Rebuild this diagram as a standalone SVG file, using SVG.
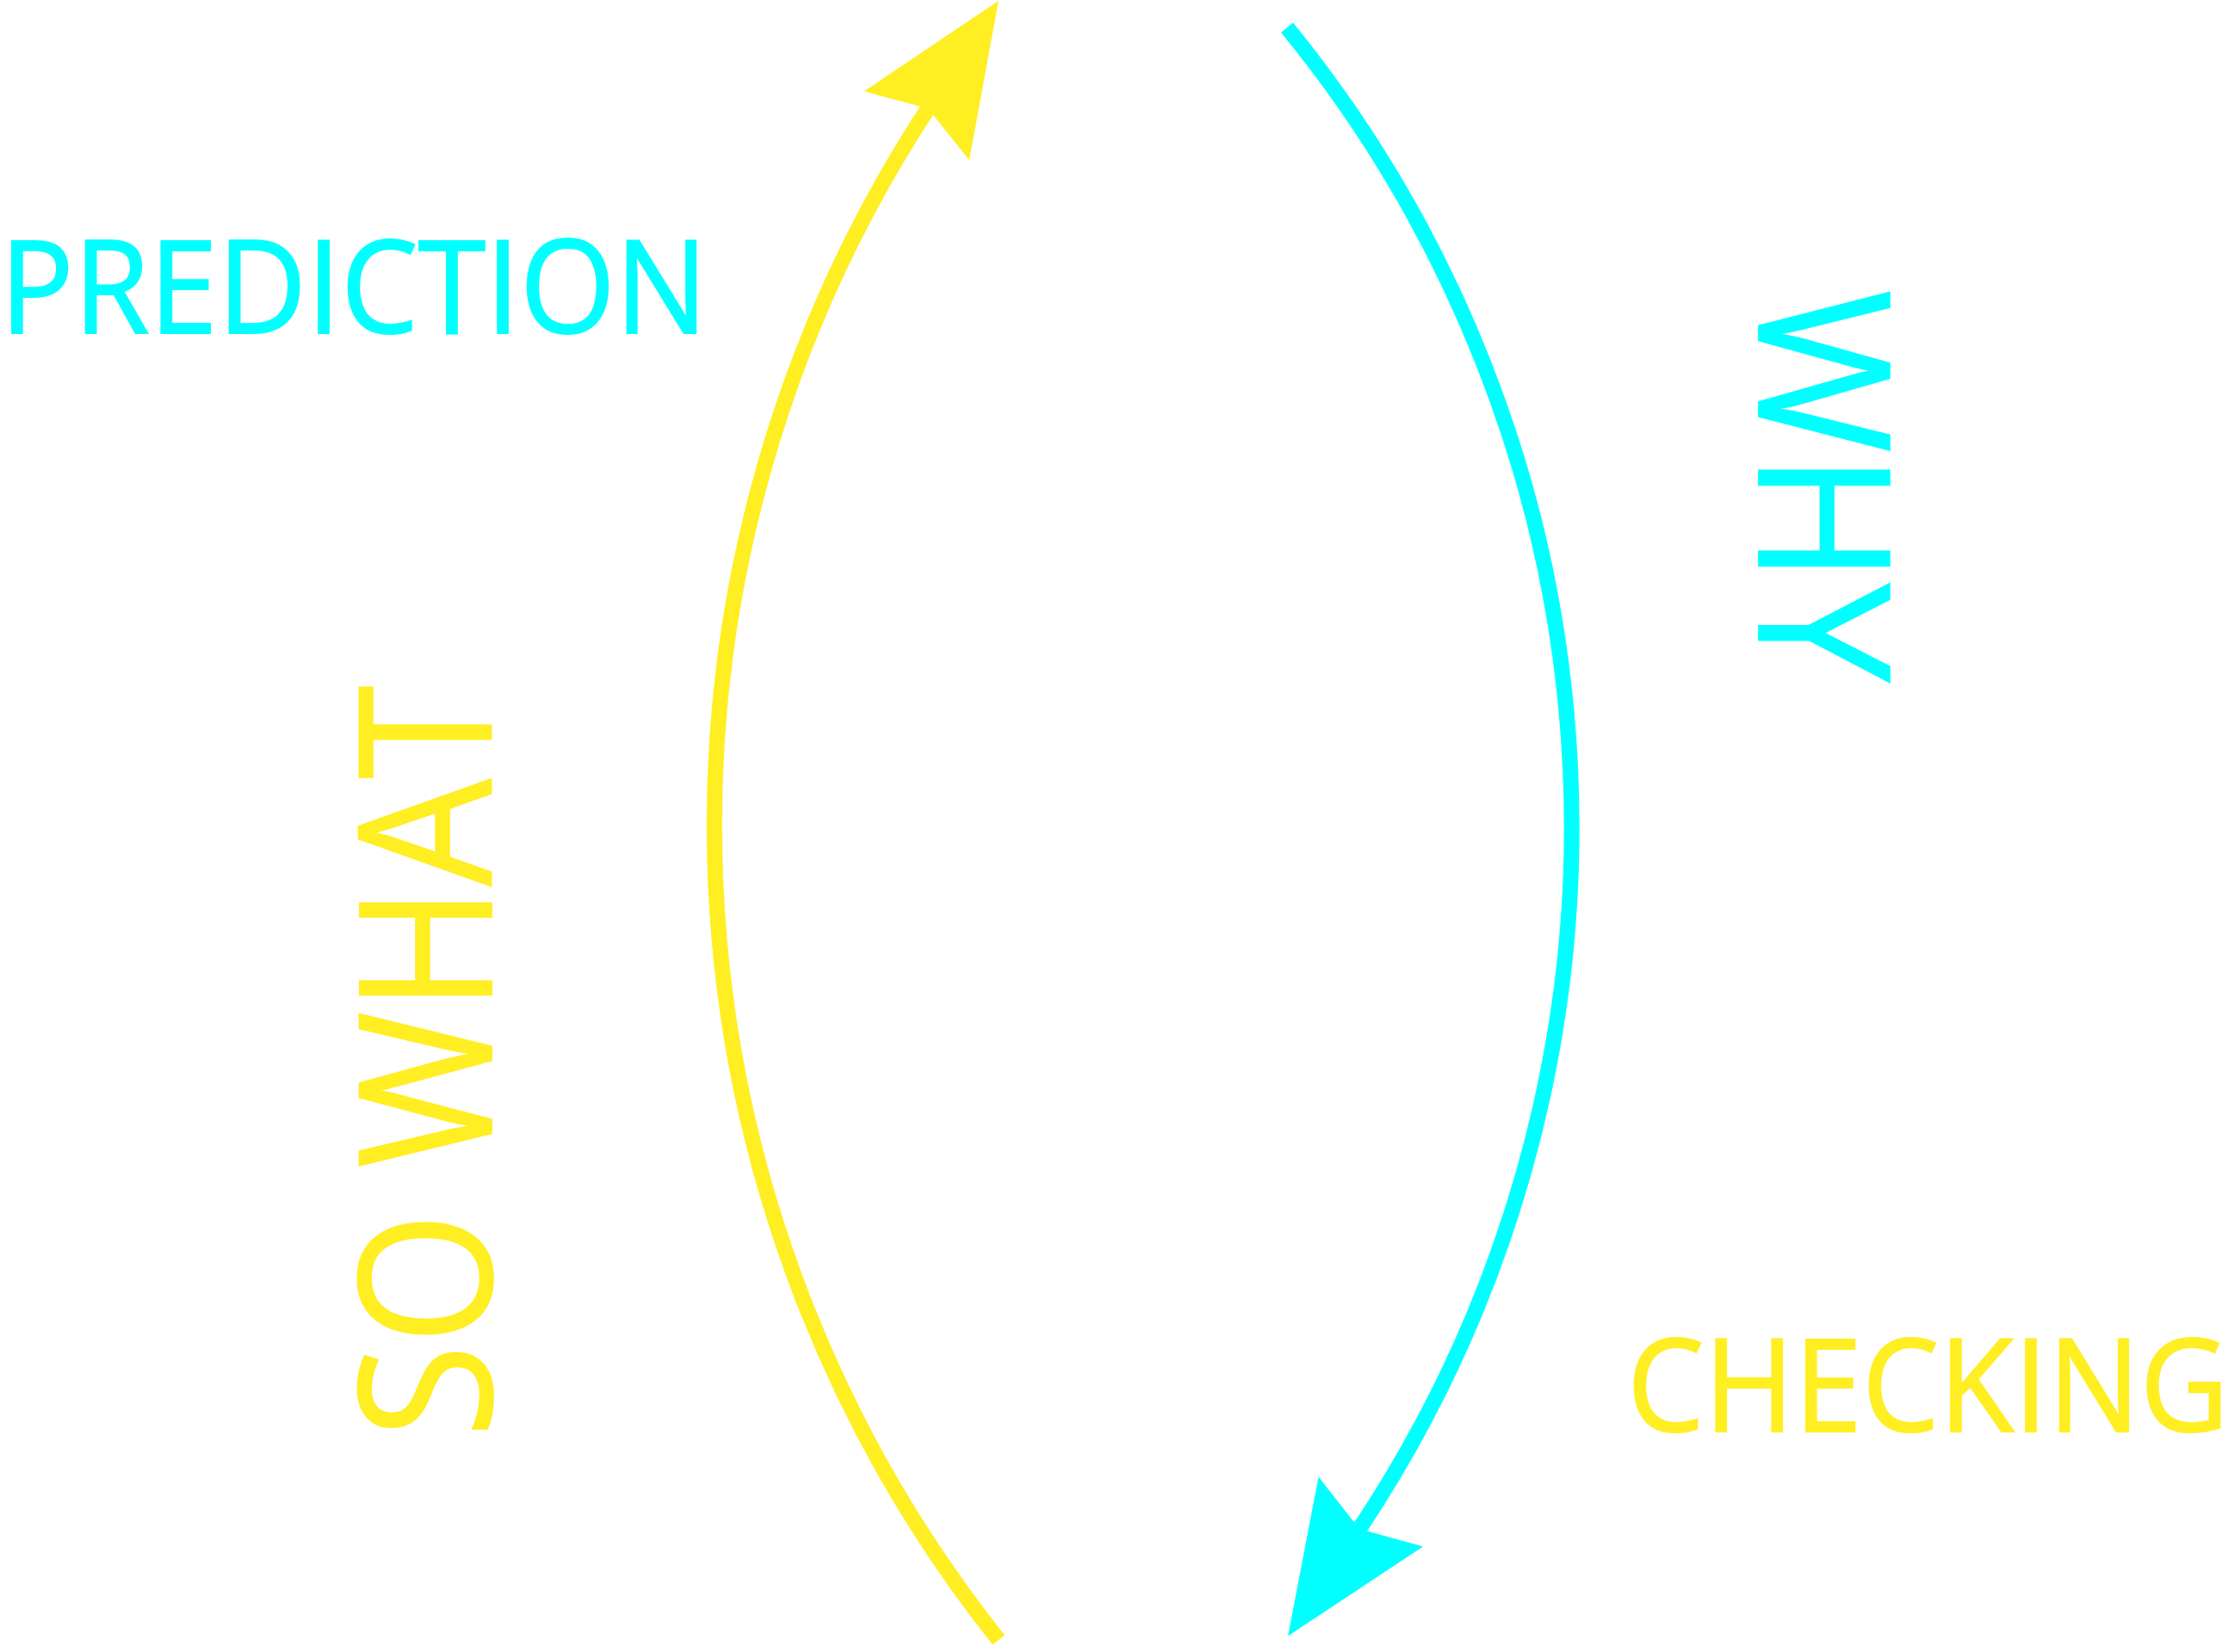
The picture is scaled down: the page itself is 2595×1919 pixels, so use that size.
<svg xmlns="http://www.w3.org/2000/svg" width="2595" height="1919" viewBox="0 0 2595 1919">
  <style>
    .lbl { font-family: "Open Sans", "Noto Sans", "Liberation Sans", sans-serif; font-weight: 400; stroke-linejoin: miter; }
    .cy { fill: #00FFFF; stroke: #00FFFF; }
    .ye { fill: #FFEE22; stroke: #FFEE22; }
    .h { stroke-width: 2; }
    .v { stroke-width: 1.6; }
    .arc { fill: none; stroke-width: 18; stroke-linecap: butt; }
  </style>
  <defs>
    <marker id="headYellow" markerUnits="userSpaceOnUse" markerWidth="400" markerHeight="400" refX="0" refY="0" orient="auto" overflow="visible">
      <path d="M -24,-73 L 149.5,0 L -24,73 L 0,0 Z" fill="#FFEE22"/>
    </marker>
    <marker id="headCyan" markerUnits="userSpaceOnUse" markerWidth="400" markerHeight="400" refX="0" refY="0" orient="auto" overflow="visible">
      <path d="M -24,-73 L 149.5,0 L -24,73 L 0,0 Z" fill="#00FFFF"/>
    </marker>
  </defs>
  <rect width="2595" height="1919" fill="#FFFFFF"/>
  <g id="connectors">
    <path id="arc-sowhat" class="arc" stroke="#FFEE22" d="M 1160 1905 A 1521 1521 0 0 1 1078 126" marker-end="url(#headYellow)"/>
    <path id="arc-why" class="arc" stroke="#00FFFF" d="M 1495 32 A 1470 1470 0 0 1 1579 1776" marker-end="url(#headCyan)"/>
  </g>
  <g id="prediction">
    <text class="lbl cy h" x="0" y="387" font-size="151" textLength="822" lengthAdjust="spacingAndGlyphs">PREDICTION</text>
  </g>
  <g id="checking">
    <text class="lbl ye h" x="1890" y="1663" font-size="151" textLength="699" lengthAdjust="spacingAndGlyphs">CHECKING</text>
  </g>
  <g id="why">
    <text class="lbl cy v" transform="translate(2043,336.5) rotate(90)" x="0" y="0" font-size="212" textLength="456" lengthAdjust="spacingAndGlyphs">WHY</text>
  </g>
  <g id="sowhat">
    <text class="lbl ye v" transform="translate(571,1670) rotate(-90)" x="0" y="0" font-size="214" textLength="874" lengthAdjust="spacingAndGlyphs">SO WHAT</text>
  </g>
</svg>
